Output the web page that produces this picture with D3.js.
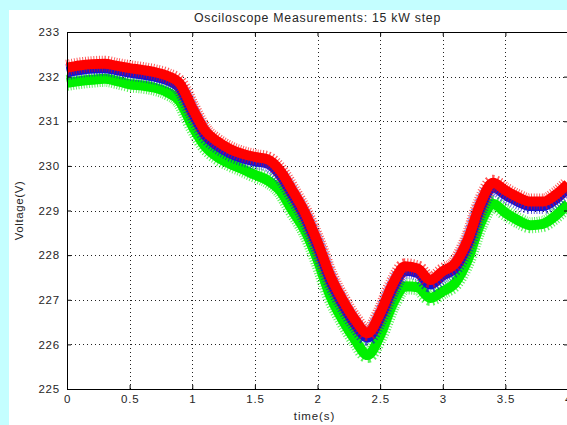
<!DOCTYPE html>
<html>
<head>
<meta charset="utf-8">
<script src="https://cdn.jsdelivr.net/npm/d3@7"></script>
<style>
  body { margin: 0; background: #c4feff; overflow: hidden; }
  svg { display: block; }
  text { font-family: "Liberation Sans", Arial, sans-serif; fill: #262626; }
</style>
</head>
<body>
<div id="chart"></div>
<script>
// values (one point every 0.1 s)
var timeS = [0, 0.1, 0.2, 0.3, 0.4, 0.5, 0.6, 0.7, 0.8, 0.9,
             1.0, 1.1, 1.2, 1.3, 1.4, 1.5, 1.6, 1.7, 1.8, 1.9,
             2.0, 2.1, 2.2, 2.3, 2.4, 2.5, 2.6, 2.7, 2.8, 2.9,
             3.0, 3.1, 3.2, 3.3, 3.4, 3.5, 3.6, 3.7, 3.8, 3.9, 4.0];

var voltsRed = [232.20, 232.25, 232.28, 232.29, 232.24, 232.19, 232.15, 232.10, 232.02, 231.85,
                231.30, 230.80, 230.55, 230.38, 230.27, 230.20, 230.15, 229.90, 229.45, 228.95,
                228.30, 227.55, 227.00, 226.55, 226.25, 226.70, 227.35, 227.75, 227.70, 227.44,
                227.64, 227.82, 228.35, 229.15, 229.62, 229.45, 229.30, 229.20, 229.20, 229.35, 229.60];

var voltsBlue = [232.10, 232.15, 232.18, 232.19, 232.14, 232.09, 232.05, 232.00, 231.92, 231.75,
                 231.20, 230.70, 230.45, 230.28, 230.17, 230.10, 230.05, 229.80, 229.35, 228.85,
                 228.20, 227.45, 226.90, 226.45, 226.15, 226.60, 227.25, 227.65, 227.60, 227.34,
                 227.54, 227.72, 228.25, 229.05, 229.52, 229.35, 229.20, 229.10, 229.10, 229.25, 229.50];

var voltsGreen = [231.86, 231.90, 231.93, 231.95, 231.90, 231.83, 231.80, 231.75, 231.65, 231.45,
                  230.90, 230.45, 230.20, 230.05, 229.93, 229.80, 229.68, 229.45, 229.00, 228.55,
                  227.90, 227.10, 226.55, 226.10, 225.76, 226.20, 226.90, 227.30, 227.28, 227.04,
                  227.19, 227.38, 227.90, 228.70, 229.15, 228.95, 228.78, 228.67, 228.70, 228.88, 229.15];

var xTicks = [0, 0.5, 1, 1.5, 2, 2.5, 3, 3.5, 4];
var yTicks = [225, 226, 227, 228, 229, 230, 231, 232, 233];

// set the dimensions and margins of the graph
var margin = {top: 32, right: -1, bottom: 36, left: 67},
    width = 567 - margin.left - margin.right,
    height = 425 - margin.top - margin.bottom;

var container = d3.select("#chart")
  .append("svg")
  .attr("width", 567)
  .attr("height", 425);

// white figure
container.append("rect")
  .attr("x", 9)
  .attr("y", 10)
  .attr("width", 600)
  .attr("height", 450)
  .attr("fill", "#fff");

var svg = container.append("g")
  .attr("transform", "translate(" + margin.left + "," + margin.top + ")");

var x = d3.scaleLinear().domain([0, 4]).range([0, width]);
var y = d3.scaleLinear().domain([225, 233]).range([height, 0]);

// dotted grid
var grid = svg.append("g")
  .attr("stroke", "#222")
  .attr("stroke-width", 1)
  .attr("stroke-dasharray", "1,3")
  .attr("shape-rendering", "crispEdges");

grid.selectAll(".vgrid")
  .data(xTicks)
  .enter()
  .append("line")
  .attr("x1", d => Math.round(x(d)) + 0.5)
  .attr("x2", d => Math.round(x(d)) + 0.5)
  .attr("y1", 0)
  .attr("y2", height);

grid.selectAll(".hgrid")
  .data(yTicks)
  .enter()
  .append("line")
  .attr("x1", 0)
  .attr("x2", width)
  .attr("y1", d => Math.round(y(d)) + 0.5)
  .attr("y2", d => Math.round(y(d)) + 0.5);

// traces
var series = [
  {name: "green", color: "#00f000", values: voltsGreen},
  {name: "blue", color: "#1414d2", values: voltsBlue},
  {name: "red", color: "#ff0000", values: voltsRed}
];

var valueline = d3.line()
  .x(function(d, i) { return x(timeS[i]); })
  .y(function(d) { return y(d); })
  .curve(d3.curveMonotoneX);

var traces = svg.append("g");

series.forEach(function(s) {
  // noisy fringe
  traces.append("path")
    .datum(s.values)
    .attr("fill", "none")
    .attr("stroke", s.color)
    .attr("stroke-width", 16)
    .attr("stroke-dasharray", "1,1.7")
    .attr("opacity", 0.65)
    .attr("d", valueline);
  // solid core
  traces.append("path")
    .datum(s.values)
    .attr("fill", "none")
    .attr("stroke", s.color)
    .attr("stroke-width", 10)
    .attr("stroke-linejoin", "round")
    .attr("d", valueline);
});

// axes
svg.append("g")
  .attr("transform", "translate(0," + height + ")")
  .call(d3.axisBottom(x).tickValues(xTicks).tickFormat(d3.format("")).tickSize(-4).tickSizeOuter(0).tickPadding(6));

svg.append("g")
  .call(d3.axisTop(x).tickValues(xTicks).tickFormat("").tickSize(-4).tickSizeOuter(0));

svg.append("g")
  .call(d3.axisLeft(y).tickValues(yTicks).tickFormat(d3.format("d")).tickSize(-4).tickSizeOuter(0).tickPadding(7));

svg.append("g")
  .attr("transform", "translate(" + width + ",0)")
  .call(d3.axisRight(y).tickValues(yTicks).tickFormat("").tickSize(-4).tickSizeOuter(0));

svg.selectAll(".domain").attr("stroke", "#000");
svg.selectAll(".tick line").attr("stroke", "#000");
svg.selectAll(".tick text")
  .attr("font-size", "11.5px")
  .attr("letter-spacing", "0.8px")
  .attr("fill", "#2a2a2a");

// title and labels
svg.append("text")
  .attr("x", width / 2)
  .attr("y", -10)
  .attr("text-anchor", "middle")
  .attr("font-size", "12.3px")
  .attr("letter-spacing", "0.75px")
  .text("Osciloscope Measurements: 15 kW step");

svg.append("text")
  .attr("x", width / 2 - 3)
  .attr("y", height + 31)
  .attr("text-anchor", "middle")
  .attr("font-size", "11.5px")
  .attr("letter-spacing", "0.9px")
  .text("time(s)");

svg.append("text")
  .attr("transform", "rotate(-90)")
  .attr("x", -height / 2)
  .attr("y", -44)
  .attr("text-anchor", "middle")
  .attr("font-size", "11.5px")
  .attr("letter-spacing", "0.6px")
  .text("Voltage(V)");
</script>
</body>
</html>
